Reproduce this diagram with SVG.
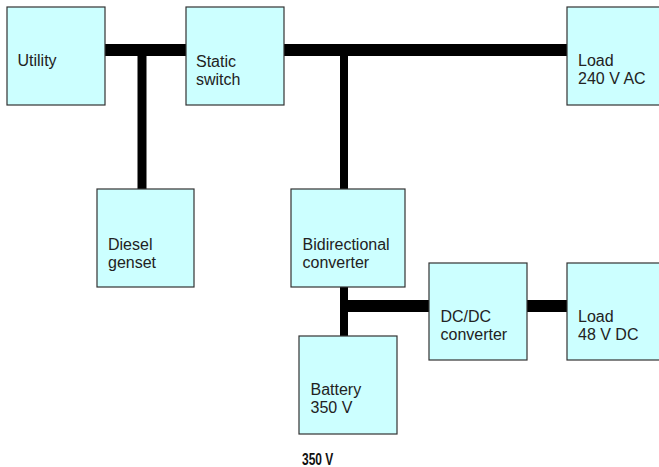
<svg xmlns="http://www.w3.org/2000/svg" width="659" height="467" viewBox="0 0 659 467">
<style>
.box{fill:#ccffff;stroke:#333;stroke-width:1.2}
.lbl{font-family:"Liberation Sans",Arial,sans-serif;font-size:16px;fill:#222}
.bold{font-family:"Liberation Sans",Arial,sans-serif;font-size:12px;font-weight:bold;fill:#111}
.bus{stroke:#000;fill:none}
</style>
<rect width="659" height="467" fill="#fff"/>
<g id="connectors">
<line class="bus" x1="105" y1="50" x2="186" y2="50" stroke-width="12"/>
<line class="bus" x1="142" y1="50" x2="142" y2="189" stroke-width="9"/>
<line class="bus" x1="284" y1="50" x2="567" y2="50" stroke-width="12"/>
<line class="bus" x1="344" y1="50" x2="344" y2="189" stroke-width="8"/>
<line class="bus" x1="344" y1="287" x2="344" y2="336" stroke-width="8"/>
<line class="bus" x1="344" y1="306" x2="429" y2="306" stroke-width="12"/>
<line class="bus" x1="527" y1="306" x2="567" y2="306" stroke-width="12"/>
</g>
<g id="utility">
<rect class="box" x="7" y="7" width="98" height="98"/>
<text class="lbl" x="17.5" y="66">Utility</text>
</g>
<g id="static-switch">
<rect class="box" x="186" y="7" width="98" height="98"/>
<text class="lbl" x="196" y="67">Static</text>
<text class="lbl" x="196" y="85">switch</text>
</g>
<g id="load-ac">
<rect class="box" x="567" y="7" width="110" height="98"/>
<text class="lbl" x="578" y="66">Load</text>
<text class="lbl" x="578" y="84">240 V AC</text>
</g>
<g id="diesel">
<rect class="box" x="97" y="189" width="97" height="98"/>
<text class="lbl" x="108" y="250">Diesel</text>
<text class="lbl" x="108" y="268">genset</text>
</g>
<g id="bidirectional">
<rect class="box" x="291" y="189" width="114" height="98"/>
<text class="lbl" x="302.5" y="250">Bidirectional</text>
<text class="lbl" x="302.5" y="268">converter</text>
</g>
<g id="dcdc">
<rect class="box" x="429" y="263" width="98" height="97"/>
<text class="lbl" x="440.5" y="322">DC/DC</text>
<text class="lbl" x="440.5" y="340">converter</text>
</g>
<g id="load-dc">
<rect class="box" x="567" y="263" width="110" height="97"/>
<text class="lbl" x="578" y="322">Load</text>
<text class="lbl" x="578" y="340">48 V DC</text>
</g>
<g id="battery">
<rect class="box" x="299" y="336" width="98" height="98"/>
<text class="lbl" x="310.5" y="395">Battery</text>
<text class="lbl" x="310.5" y="413">350 V</text>
</g>
<text class="bold" transform="translate(302,464.5) scale(1,1.3)" x="0" y="0">350 V</text>
</svg>
